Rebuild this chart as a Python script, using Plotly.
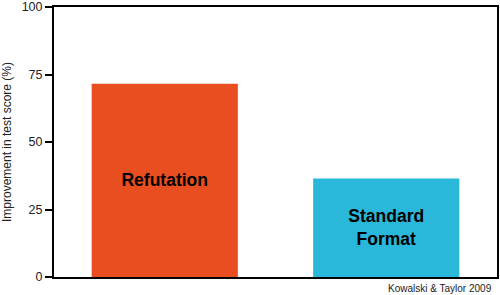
import plotly.graph_objects as go

categories = ["Refutation", "Standard Format"]
bar_labels = ["Refutation", "Standard<br>Format"]
values = [71.6, 36.5]
colors = ["#E84E1F", "#29B8D9"]
y_ticks = [0, 25, 50, 75, 100]

fig = go.Figure(go.Bar(
    x=categories, y=values, marker=dict(color=colors, line=dict(width=0)),
    text=bar_labels, textposition="inside", insidetextanchor="middle",
    textfont=dict(family="Liberation Sans, Arial", size=17.5, color="black"),
    texttemplate="<b>%{text}</b>", hoverinfo="skip"
))

fig.update_layout(
    width=500, height=295,
    margin=dict(l=54, r=3, t=7, b=18, autoexpand=False),
    plot_bgcolor="white", paper_bgcolor="white",
    bargap=0.34, showlegend=False,
    font=dict(family="Liberation Sans, Arial", color="#222"),
)
fig.update_xaxes(showticklabels=False, showgrid=False, showline=True,
                 linecolor="black", linewidth=2, mirror=True, ticks="")
fig.update_yaxes(range=[0, 100], tickvals=y_ticks, showgrid=False, zeroline=False,
                 showline=True, linecolor="black", linewidth=2, mirror=True,
                 ticks="outside", ticklen=7, tickwidth=2, tickcolor="black",
                 ticklabeloverflow="allow", automargin=False,
                 tickfont=dict(size=12.5, color="#222"),
                 title=dict(text="Improvement in test score (%)", font=dict(size=12, color="#222"), standoff=12))
fig.add_annotation(text="Kowalski & Taylor 2009", xref="paper", yref="paper",
                   x=1.0, y=0, yshift=-4, xshift=-3, xanchor="right", yanchor="top",
                   showarrow=False, font=dict(size=10, color="#222"))

fig.write_html("out.html")
